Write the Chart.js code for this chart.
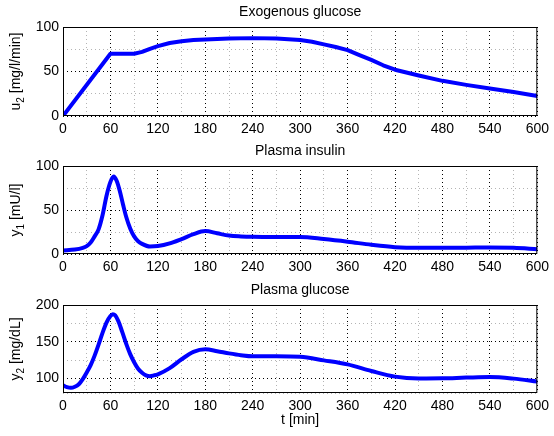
<!DOCTYPE html>
<html>
<head>
<meta charset="utf-8">
<script src="https://cdn.jsdelivr.net/npm/chart.js@4"></script>
<style>
    body { margin: 0; background: #fff; }
    #wrap { position: relative; width: 554px; height: 436px; }
    canvas { position: absolute; left: 0; }
</style>
</head>
<body>
<div id="wrap">
    <canvas id="c1" width="554" height="140" style="top:0"></canvas>
    <canvas id="c2" width="554" height="140" style="top:140px"></canvas>
    <canvas id="c3" width="554" height="157" style="top:279px"></canvas>
</div>
<script>
// exogenous glucose u2 [mg/l/min]
const timeU2 = [0, 60, 90, 100, 110, 120, 135, 150, 165, 180, 210, 240, 270, 300, 315, 330, 345, 360, 375, 390, 405, 420, 450, 480, 510, 540, 570, 600];
const exoGlucose = [0, 70, 70, 72, 75.5, 78.5, 82, 84, 85.3, 86, 87, 87.5, 87, 85.5, 83.5, 80.5, 77.5, 74, 68.5, 63, 57, 52, 45.5, 39.5, 35, 31, 27, 22.5];

// plasma insulin y1 [mU/l]
const timeIns = [0, 15, 25, 30, 35, 40, 45, 50, 55, 60, 64, 68, 72, 76, 80, 85, 90, 95, 100, 110, 120, 135, 150, 165, 180, 195, 210, 225, 240, 270, 300, 330, 360, 390, 420, 450, 480, 510, 540, 570, 600];
const insulin = [4, 5, 7, 9, 13, 20, 28, 44, 66, 82, 88, 83, 71, 56, 42, 29, 20, 14.5, 11.5, 8.5, 9, 12, 17, 22.5, 26, 23.5, 21, 20, 19.5, 19.3, 19.3, 17, 14, 10.5, 7.8, 7, 7, 7.2, 7.5, 7, 5.5];

// plasma glucose y2 [mg/dL]
const timeGlu = [0, 5, 10, 15, 20, 25, 30, 35, 40, 45, 50, 55, 60, 63, 66, 70, 75, 80, 85, 90, 95, 100, 105, 110, 115, 120, 135, 150, 165, 180, 195, 210, 225, 240, 270, 300, 330, 360, 390, 420, 450, 480, 510, 540, 570, 600];
const glucose = [90.5, 88, 87, 88.5, 92, 99, 108, 118, 131, 146, 162, 176, 185, 187.5, 186, 178, 163, 147, 133, 122, 113, 107.5, 104, 103, 104, 105.5, 114, 126, 136, 139.5, 137, 134, 131.5, 130, 130, 129.3, 124.5, 119, 110, 102.3, 99.8, 100, 101, 101.8, 99.6, 95.5];

const FONT = '"Liberation Sans", Arial, Helvetica, sans-serif';
const FONT_SIZE = 14;

const framePlugin = {
    id: 'frame',
    afterDatasetsDraw(chart, args, opts) {
        const {ctx, chartArea: a} = chart;
        ctx.save();
        ctx.strokeStyle = '#000';
        ctx.lineWidth = 1;
        ctx.strokeRect(a.left + 0.5, a.top + 0.5, a.right - a.left - 1, a.bottom - a.top - 1);

        // title
        ctx.fillStyle = '#000';
        ctx.font = FONT_SIZE + 'px ' + FONT;
        ctx.textAlign = 'center';
        ctx.textBaseline = 'middle';
        ctx.fillText(opts.title, (a.left + a.right) / 2, a.top - 15);

        // y label with subscript
        const subFont = '10px ' + FONT;
        const wMain = ctx.measureText(opts.yMain).width;
        const wRest = ctx.measureText(opts.yRest).width;
        ctx.font = subFont;
        const wSub = ctx.measureText(opts.ySub).width;
        const total = wMain + wSub + wRest;
        ctx.translate(20, (a.top + a.bottom) / 2);
        ctx.rotate(-Math.PI / 2);
        ctx.textAlign = 'left';
        ctx.textBaseline = 'alphabetic';
        let x = -total / 2;
        ctx.font = FONT_SIZE + 'px ' + FONT;
        ctx.fillText(opts.yMain, x, 0);
        x += wMain;
        ctx.font = subFont;
        ctx.fillText(opts.ySub, x, 4);
        x += wSub;
        ctx.font = FONT_SIZE + 'px ' + FONT;
        ctx.fillText(opts.yRest, x, 0);
        ctx.restore();
    }
};

function makeChart(id, times, values, yMin, yMax, opts) {
    const points = times.map((t, i) => ({x: t, y: values[i]}));
    return new Chart(document.getElementById(id), {
        type: 'line',
        data: {
            datasets: [{
                data: points,
                borderColor: '#0000ff',
                borderWidth: 4,
                pointRadius: 0,
                tension: 0,
                cubicInterpolationMode: opts.smooth ? 'monotone' : 'default',
                borderJoinStyle: 'round',
                borderCapStyle: 'round'
            }]
        },
        options: {
            responsive: false,
            animation: false,
            events: [],
            layout: {padding: {top: opts.top, right: 12, left: 0, bottom: 0}},
            plugins: {
                legend: {display: false},
                tooltip: {enabled: false},
                frame: opts
            },
            scales: {
                x: {
                    type: 'linear',
                    min: 0,
                    max: 600,
                    afterFit: (scale) => { scale.height = opts.xHeight; },
                    ticks: {
                        stepSize: 30,
                        autoSkip: false,
                        maxRotation: 0,
                        padding: 5,
                        color: '#000',
                        font: {family: FONT, size: FONT_SIZE},
                        callback: (v) => (v % 60 === 0 ? v : '')
                    },
                    grid: {
                        drawTicks: false,
                        color: (c) => (c.tick && c.tick.value % 60 === 0 ? '#000' : '#b4b4b4'),
                        lineWidth: 1
                    },
                    border: {display: false, dash: [1, 3]},
                    title: {
                        display: !!opts.xTitle,
                        text: opts.xTitle || '',
                        color: '#000',
                        font: {family: FONT, size: FONT_SIZE},
                        padding: {top: 0, bottom: 7}
                    }
                },
                y: {
                    min: yMin,
                    max: yMax,
                    afterFit: (scale) => { scale.width = 63; },
                    ticks: {
                        stepSize: 25,
                        autoSkip: false,
                        padding: 4,
                        color: '#000',
                        font: {family: FONT, size: FONT_SIZE},
                        callback: (v) => (v % 50 === 0 ? v : '')
                    },
                    grid: {
                        drawTicks: false,
                        color: (c) => (c.tick && c.tick.value % 50 === 0 ? '#000' : '#b4b4b4'),
                        lineWidth: 1
                    },
                    border: {display: false, dash: [1, 3]}
                }
            }
        },
        plugins: [framePlugin]
    });
}

makeChart('c1', timeU2, exoGlucose, 0, 100, {
    top: 27, xHeight: 24, title: 'Exogenous glucose', yMain: 'u', ySub: '2', yRest: ' [mg/l/min]'
});
makeChart('c2', timeIns, insulin, 0, 100, {
    top: 26, xHeight: 26, smooth: true, title: 'Plasma insulin', yMain: 'y', ySub: '1', yRest: ' [mU/l]'
});
makeChart('c3', timeGlu, glucose, 80, 200, {
    top: 26, xHeight: 43, smooth: true, title: 'Plasma glucose', yMain: 'y', ySub: '2', yRest: ' [mg/dL]', xTitle: 't [min]'
});
</script>
</body>
</html>
